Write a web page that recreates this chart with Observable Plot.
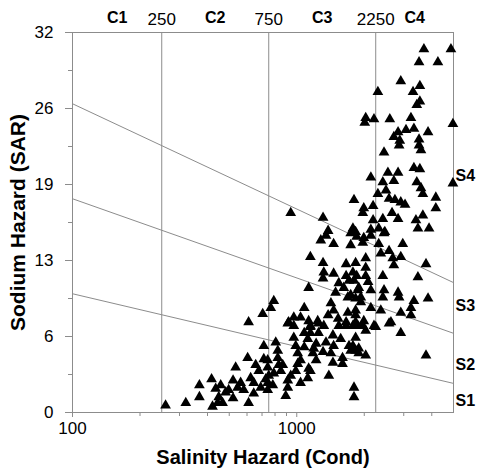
<!DOCTYPE html>
<html><head><meta charset="utf-8">
<script src="https://cdn.jsdelivr.net/npm/d3@7"></script>
<script src="https://cdn.jsdelivr.net/npm/@observablehq/plot@0.6"></script>
<style>body{margin:0;background:#fff}</style>
</head><body><div id="chart"></div>
<script>
// Sample points: electrical conductivity (salinity hazard) and SAR (sodium hazard)
const ec = [
3690,4870,3510,4260,2910,3540,3300,3540,3430,2300,2030,2010,2210,2600,3230,4970,3330,3850,2830,3070,
2710,3510,2880,2450,2860,3510,3580,2550,2830,3330,3540,2140,2420,2710,3430,3580,4970,2500,2300,3650,
2580,2740,2910,3040,4170,4170,1800,1990,2190,1970,2660,2190,2420,2830,3400,3650,1310,940,1780,1830,
2140,2320,2470,3470,3890,1380,1280,1350,1460,1740,1740,1850,1990,2140,2450,2970,2320,1970,2370,2580,
2680,2910,2030,1830,2710,2420,3770,3470,2030,2030,1800,1870,2080,2450,2830,2860,2420,3330,3850,1150,
1310,1320,1310,1130,1660,1780,1850,1710,1540,1620,1490,1740,1890,1460,1660,2140,1690,1930,790,766,
705,1080,1040,970,920,1130,1250,1420,1460,1380,1530,1690,1830,1660,1830,1150,1830,1930,2140,2370,
2910,3230,2630,1830,1990,2210,1780,3230,2030,2250,2580,2910,1830,1780,1830,1890,2030,3770,1800,1800,
713,742,742,742,790,782,806,823,823,831,893,912,912,940,970,990,1010,1010,990,1040,
912,970,1080,1080,1120,1130,1150,1190,1250,1310,1320,1350,1390,1420,1450,1450,1460,1600,1660,1710,
1740,1870,1570,260,320,368,368,417,421,435,458,449,467,482,497,520,534,520,562,545,
580,610,610,604,623,643,643,656,677,713,727,691,742,750,444,1120,1150,1150,1180,1220,
1240,1540,1600,1890,1970,1220,1040,849,866
];
const sar = [
30.6,30.6,29.5,29.5,27.9,27.5,27.0,26.2,25.9,27.0,24.8,24.4,24.7,24.7,24.8,24.3,23.9,23.6,23.6,23.8,
23.2,23.0,22.9,21.9,22.5,22.5,22.1,20.2,20.2,20.6,20.5,19.8,19.4,19.5,19.4,18.9,19.3,18.7,18.4,18.4,
18.0,17.9,17.7,17.5,18.1,17.2,17.9,17.2,17.4,16.8,16.8,16.2,16.3,16.3,16.2,16.6,16.4,16.8,15.5,15.2,
15.4,15.5,15.2,15.5,15.5,15.3,14.5,14.9,14.2,15.1,14.1,14.8,14.7,14.9,15.1,14.2,14.2,14.3,13.4,13.6,
13.0,13.1,13.0,12.6,12.4,11.5,12.5,11.4,12.2,11.5,11.1,10.3,11.0,10.3,10.1,9.7,9.7,9.4,9.6,13.1,
12.6,11.8,11.3,10.5,12.5,11.8,11.5,11.1,10.9,10.5,10.1,9.9,10.5,11.7,11.5,10.3,9.7,9.7,9.4,8.8,
8.3,8.8,8.0,8.0,7.6,7.7,7.5,9.2,8.6,8.2,7.9,8.4,8.6,7.6,7.6,7.2,9.6,9.3,8.8,8.6,
8.4,8.2,7.6,8.2,7.7,7.3,7.3,8.8,6.9,7.2,7.5,6.7,6.3,5.6,5.2,5.0,4.8,4.8,2.1,1.3,
5.6,4.4,2.5,1.9,3.3,2.3,5.9,5.2,4.6,4.0,1.4,2.7,2.1,3.1,6.3,5.6,5.0,4.1,3.5,2.5,
7.5,7.3,6.7,5.5,6.2,3.7,7.3,5.4,6.7,5.1,7.3,5.9,3.1,5.0,4.2,6.5,5.6,4.1,7.3,5.6,
5.2,7.3,6.2,0.6,0.8,2.3,1.3,2.8,0.5,2.0,2.3,1.3,0.8,1.7,1.9,1.2,3.8,2.7,2.5,2.1,
1.9,0.8,7.6,4.6,2.9,2.5,1.6,4.0,3.5,4.5,2.8,2.1,3.8,3.1,0.8,2.9,3.5,6.7,5.0,5.8,
7.7,7.3,4.6,5.4,7.3,4.4,4.4,3.5,4.0
];

// Salinity classes (EC boundaries) and sodium class boundary lines
const ecBounds = [100, 250, 750, 2250, 5000];
const cNames = ["C1", "C2", "C3", "C4"];
const lineEC = [100, 5000];
const s12 = [10.0, 2.45];
const s23 = [18.0, 6.67];
const s34 = [26.0, 10.94];
const sNames = ["S1", "S2", "S3", "S4"];
const sLabelSAR = [1.0, 4.0, 9.0, 19.9];

// Axis ticks
const yTicks = [0, 6.4, 12.8, 19.2, 25.6, 32];
const yMinor = [3.2, 9.6, 16, 22.4, 28.8];
const xMajor = [100, 1000];
const xMinor = [200, 300, 400, 500, 600, 700, 800, 900, 2000, 3000, 4000];

const points = ec.map((e, i) => ({ec: e, sar: sar[i]}));
const bLines = [s12, s23, s34].flatMap((s, k) => lineEC.map((e, j) => ({k, ec: e, sar: s[j]})));
const cMid = cNames.map((n, i) => ({name: n, ec: Math.sqrt(ecBounds[i] * ecBounds[i + 1])}));
const inner = ecBounds.slice(1, 4);
const sLab = sNames.map((n, i) => ({name: n, sar: sLabelSAR[i]}));
const grey = "#8c8c8c";

const chart = Plot.plot({
  width: 477, height: 471,
  marginLeft: 72, marginRight: 24, marginTop: 32, marginBottom: 59,
  style: {fontFamily: "'Liberation Sans', Arial, sans-serif", fontSize: "17px", color: "black", background: "white"},
  x: {type: "log", domain: [100, 5000], axis: null},
  y: {domain: [0, 32], axis: null},
  marks: [
    Plot.ruleX(inner, {stroke: grey, strokeWidth: 1}),
    Plot.line(bLines, {x: "ec", y: "sar", z: "k", stroke: grey, strokeWidth: 1}),
    Plot.frame({stroke: grey}),
    Plot.axisY({ticks: yTicks, tickSize: 7, tickPadding: 12, tickFormat: d => String(Math.round(d)), label: null, stroke: grey, fontSize: 17}),
    Plot.axisY({ticks: yMinor, tickSize: 4, tickFormat: () => "", label: null, stroke: grey}),
    Plot.axisX({ticks: xMajor, tickSize: 5, tickPadding: 4, tickFormat: d => String(d), label: null, stroke: grey, fontSize: 17}),
    Plot.axisX({ticks: xMinor, tickSize: 4, tickFormat: () => "", label: null, stroke: grey}),
    Plot.text(inner, {x: d => d, frameAnchor: "top", lineAnchor: "middle", dy: -13, text: d => String(d), fontSize: 17}),
    Plot.text(cMid, {x: "ec", frameAnchor: "top", lineAnchor: "middle", dy: -15, text: "name", fontSize: 16, fontWeight: "bold"}),
    Plot.text(sLab, {y: "sar", frameAnchor: "right", textAnchor: "start", dx: 2, text: "name", fontSize: 16, fontWeight: "bold"}),
    Plot.dot(points, {x: "ec", y: "sar", symbol: "triangle", r: 4, fill: "black", stroke: "none"}),
    Plot.text(["Salinity Hazard (Cond)"], {frameAnchor: "bottom", lineAnchor: "middle", dy: 45, text: d => d, fontSize: 20, fontWeight: "bold"}),
    Plot.text(["Sodium Hazard (SAR)"], {frameAnchor: "left", textAnchor: "middle", lineAnchor: "middle", dx: -54, rotate: -90, text: d => d, fontSize: 21, fontWeight: "bold"})
  ]
});
document.getElementById("chart").appendChild(chart);
</script>
</body></html>
